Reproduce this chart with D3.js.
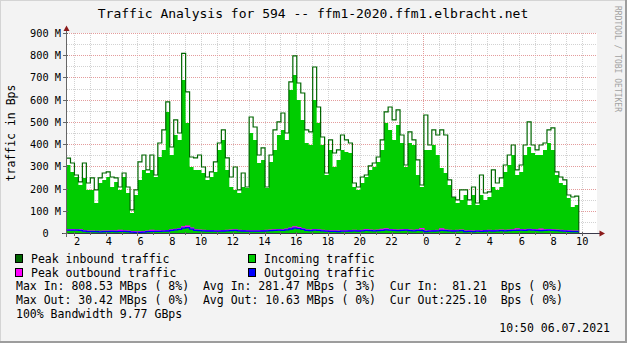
<!DOCTYPE html>
<html>
<head>
<meta charset="utf-8">
<title>Traffic Analysis for 594</title>
<style>
  body { margin: 0; background: #f3f3f3; }
  svg { display: block; }
  svg text { font-family: "DejaVu Sans Mono", monospace; white-space: pre; }
</style>
<script src="https://cdn.jsdelivr.net/npm/d3@7"></script>
</head>
<body>
<svg width="627" height="343"></svg>
<script>

// 15 minute samples from 05.07.2021 01:32, values in MBps
var startTime = new Date(2021, 6, 5, 1, 32);
var stepMinutes = 15;

var peakIn = [
  337, 315, 261, 230, 315, 225, 248, 194, 248, 270,
  275, 252, 248, 207, 270, 207, 104, 194, 320, 351,
  284, 351, 261, 405, 464, 590, 387, 509, 450, 808.5,
  635, 342, 338, 351, 297, 252, 275, 320, 405, 464,
  338, 252, 297, 194, 270, 207, 522, 477, 351, 383,
  207, 351, 464, 500, 540, 450, 680, 797, 675, 630,
  464, 455, 747, 567, 432, 270, 419, 360, 374, 441,
  419, 405, 225, 207, 252, 261, 302, 315, 342, 419,
  545, 567, 509, 554, 441, 306, 455, 419, 329, 216,
  531, 396, 464, 441, 464, 441, 239, 162, 149, 194,
  194, 149, 207, 135, 261, 180, 185, 284, 225, 248,
  306, 351, 396, 284, 306, 396, 500, 396, 374, 396,
  405, 464, 473, 275, 252, 239, 171, 162, 166
];

var avgIn = [
  306, 275, 252, 216, 248, 194, 194, 135, 225, 239,
  252, 207, 230, 194, 252, 180, 90, 171, 239, 284,
  270, 284, 252, 342, 374, 545, 351, 441, 419, 689,
  495, 297, 284, 284, 270, 239, 252, 275, 374, 419,
  284, 207, 194, 180, 207, 203, 450, 419, 315, 329,
  203, 320, 374, 441, 464, 419, 644, 711, 599, 509,
  405, 396, 599, 495, 396, 261, 374, 297, 329, 374,
  365, 360, 207, 194, 225, 252, 284, 297, 320, 374,
  495, 464, 419, 486, 405, 297, 405, 396, 261, 207,
  374, 374, 396, 351, 293, 270, 216, 162, 135, 149,
  171, 126, 171, 126, 171, 149, 162, 207, 194, 207,
  275, 306, 351, 261, 275, 351, 387, 360, 351, 351,
  374, 405, 374, 261, 225, 216, 158, 117, 126
];

var peakOut = [
  14, 15, 14, 14, 10, 8, 8, 7, 7, 8,
  8, 9, 8, 12, 9, 8, 6, 5, 5, 6,
  8, 12, 9, 9, 10, 11, 14, 16, 19, 27,
  30.4, 22, 14, 13, 12, 11, 11, 10, 10, 11,
  12, 13, 14, 12, 11, 10, 10, 10, 10, 11,
  12, 13, 14, 15, 14, 17, 22, 28, 24, 19,
  14, 13, 15, 14, 12, 10, 9, 9, 8, 10,
  10, 11, 12, 11, 12, 15, 13, 12, 13, 16,
  18, 15, 14, 13, 14, 15, 13, 12, 14, 20,
  8, 10, 11, 12, 18, 13, 12, 11, 12, 13,
  8, 9, 8, 10, 9, 11, 12, 11, 12, 13,
  12, 13, 14, 19, 15, 14, 16, 15, 14, 17,
  14, 15, 14, 13, 12, 10, 9, 8, 8
];

var avgOut = [
  13, 13, 13, 12, 8, 6, 6, 6, 5, 6,
  6, 7, 6, 7, 7, 6, 4, 3, 3, 4,
  6, 7, 7, 7, 8, 9, 12, 14, 16, 22,
  24, 17, 12, 11, 10, 9, 9, 8, 8, 9,
  10, 11, 12, 10, 9, 8, 8, 8, 8, 9,
  10, 11, 12, 13, 12, 14, 18, 22, 20, 16,
  12, 11, 13, 12, 10, 8, 7, 7, 6, 8,
  8, 9, 10, 9, 10, 12, 11, 10, 11, 12,
  14, 13, 12, 11, 12, 13, 11, 10, 12, 11,
  6, 8, 9, 10, 12, 11, 10, 9, 10, 11,
  6, 7, 6, 8, 7, 9, 10, 9, 10, 11,
  10, 11, 12, 12, 13, 12, 14, 13, 12, 11,
  12, 13, 12, 11, 10, 8, 7, 6, 6
];

var yTickValues = [0, 100, 200, 300, 400, 500, 600, 700, 800, 900];
var yTickLabels = ["0  ", "100 M", "200 M", "300 M", "400 M", "500 M", "600 M", "700 M", "800 M", "900 M"];

var legendItems = [
  { label: "Peak inbound traffic", color: "#006600" },
  { label: "Incoming traffic", color: "#00cc00" },
  { label: "Peak outbound traffic", color: "#ff00ff" },
  { label: "Outgoing traffic", color: "#0000ff" }
];

var statLines = [
  "Max In: 808.53 MBps ( 8%)  Avg In: 281.47 MBps ( 3%)  Cur In:  81.21  Bps ( 0%)",
  "Max Out: 30.42 MBps ( 0%)  Avg Out: 10.63 MBps ( 0%)  Cur Out:225.10  Bps ( 0%)",
  "100% Bandwidth 9.77 GBps"
];

var titleText = "Traffic Analysis for 594 -- ffm1-2020.ffm1.elbracht.net";
var stampText = "10:50 06.07.2021";

var svg = d3.select("svg"),
    width = +svg.attr("width"),
    height = +svg.attr("height");

var plotLeft = 66.5, plotRight = 597, plotTop = 33, plotBottom = 233;

var x = d3.scaleTime()
    .domain([new Date(2021, 6, 5, 1, 32), new Date(2021, 6, 6, 10, 56)])
    .range([plotLeft, plotRight]);

var y = d3.scaleLinear()
    .domain([0, 900])
    .range([plotBottom, plotTop]);

function timeAt(i) {
  return new Date(startTime.getTime() + i * stepMinutes * 60000);
}

// step series, with one closing point at the end of the last sample
function series(values) {
  var pts = values.map(function(v, i) { return { t: timeAt(i), v: v }; });
  pts.push({ t: timeAt(values.length), v: values[values.length - 1] });
  return pts;
}

// background and frame shading
svg.append("rect").attr("width", width).attr("height", height).attr("fill", "#f3f3f3");
svg.append("path").attr("d", "M0,343V0H627").attr("fill", "none").attr("stroke", "#d4d4d4").attr("stroke-width", 2);
svg.append("path").attr("d", "M0,342H626V0").attr("fill", "none").attr("stroke", "#9d9d9d").attr("stroke-width", 2);

svg.append("rect")
    .attr("x", plotLeft).attr("y", plotTop)
    .attr("width", plotRight - plotLeft).attr("height", plotBottom - plotTop)
    .attr("fill", "#fff");

// grid
var grid = svg.append("g").attr("shape-rendering", "crispEdges").attr("stroke-dasharray", "1,1");

var hours = d3.timeHour.range(new Date(2021, 6, 5, 2), new Date(2021, 6, 6, 11));
grid.selectAll("line.vgrid")
    .data(hours)
  .enter().append("line")
    .attr("x1", function(d) { return Math.round(x(d)) + 0.5; })
    .attr("x2", function(d) { return Math.round(x(d)) + 0.5; })
    .attr("y1", plotTop).attr("y2", plotBottom)
    .attr("stroke", function(d) { return d.getHours() === 0 ? "#e49c9c" : "#d2d2d2"; });

grid.selectAll("line.hgrid")
    .data(d3.range(50, 901, 50))
  .enter().append("line")
    .attr("x1", plotLeft).attr("x2", plotRight)
    .attr("y1", function(d) { return Math.round(y(d)) + 0.5; })
    .attr("y2", function(d) { return Math.round(y(d)) + 0.5; })
    .attr("stroke", function(d) { return d % 100 === 0 ? "#e49c9c" : "#d2d2d2"; });

// incoming area and peak inbound line
svg.append("path")
    .datum(series(avgIn))
    .attr("fill", "#00cc00")
    .attr("d", d3.area().curve(d3.curveStepAfter)
        .x(function(d) { return x(d.t); })
        .y0(y(0))
        .y1(function(d) { return y(d.v); }));

var stepLine = d3.line().curve(d3.curveStepAfter)
    .x(function(d) { return x(d.t); })
    .y(function(d) { return y(d.v); });

var peakPts = series(peakIn);
peakPts.push({ t: timeAt(peakIn.length), v: 0 });
svg.append("path")
    .datum(peakPts)
    .attr("fill", "none")
    .attr("stroke", "#006600")
    .attr("stroke-width", 1.2)
    .attr("d", stepLine);

svg.append("path")
    .datum(series(peakOut))
    .attr("fill", "none")
    .attr("stroke", "#ff00ff")
    .attr("stroke-width", 1.3)
    .attr("d", stepLine);

svg.append("path")
    .datum(series(avgOut))
    .attr("fill", "none")
    .attr("stroke", "#0000ff")
    .attr("stroke-width", 1.3)
    .attr("d", stepLine);

// axes
var axes = svg.append("g").attr("shape-rendering", "crispEdges");
axes.append("line").attr("x1", 62).attr("x2", 600).attr("y1", plotBottom + 0.5).attr("y2", plotBottom + 0.5).attr("stroke", "#3a3a4a");
axes.append("line").attr("x1", plotLeft).attr("x2", plotLeft).attr("y1", 237).attr("y2", 30).attr("stroke", "#666");

axes.selectAll("line.xtick")
    .data(hours)
  .enter().append("line")
    .attr("x1", function(d) { return Math.round(x(d)) + 0.5; })
    .attr("x2", function(d) { return Math.round(x(d)) + 0.5; })
    .attr("y1", plotBottom - 1).attr("y2", function(d) { return d.getHours() % 2 === 0 ? plotBottom + 3 : plotBottom + 2; })
    .attr("stroke", "#666");

axes.selectAll("line.ytick")
    .data(yTickValues)
  .enter().append("line")
    .attr("x1", 63).attr("x2", 68)
    .attr("y1", function(d) { return Math.round(y(d)) + 0.5; })
    .attr("y2", function(d) { return Math.round(y(d)) + 0.5; })
    .attr("stroke", "#666");

svg.append("path").attr("d", "M66.5,25.5L63.5,31L69.5,31Z").attr("fill", "#8b1a1a");
svg.append("path").attr("d", "M605,233.5L599.5,230.5L599.5,236.5Z").attr("fill", "#8b1a1a");

// x labels, padded like " 2" so the digit sits right of the line
svg.selectAll("text.xlab")
    .data(hours.filter(function(d) { return d.getHours() % 2 === 0; }))
  .enter().append("text")
    .attr("x", function(d) { return x(d); })
    .attr("y", 245)
    .attr("text-anchor", "middle")
    .attr("font-size", "10.3px")
    .text(function(d) { var h = d.getHours(); return h < 10 ? " " + h : "" + h; });

svg.selectAll("text.ylab")
    .data(yTickValues)
  .enter().append("text")
    .attr("x", 61)
    .attr("y", function(d) { return y(d) + 4; })
    .attr("text-anchor", "end")
    .attr("font-size", "10.3px")
    .text(function(d, i) { return yTickLabels[i]; });

svg.append("text")
    .attr("transform", "translate(15,133) rotate(-90)")
    .attr("text-anchor", "middle")
    .attr("font-size", "11.5px")
    .text("traffic in Bps");

svg.append("text")
    .attr("x", 313).attr("y", 18)
    .attr("text-anchor", "middle")
    .attr("font-size", "13px")
    .text(titleText);

svg.append("text")
    .attr("transform", "translate(615,6) rotate(90)")
    .attr("font-size", "8px")
    .attr("fill", "#a2a2a2")
    .text("RRDTOOL / TOBI OETIKER");

// legend
var legend = svg.selectAll("g.legend")
    .data(legendItems)
  .enter().append("g")
    .attr("transform", function(d, i) {
      return "translate(" + (i % 2 === 0 ? 15.5 : 248.5) + "," + (254.5 + Math.floor(i / 2) * 14) + ")";
    });

legend.append("rect")
    .attr("width", 7).attr("height", 8)
    .attr("fill", function(d) { return d.color; })
    .attr("stroke", "#000")
    .attr("shape-rendering", "crispEdges");

legend.append("text")
    .attr("x", 15.5).attr("y", 8)
    .attr("font-size", "11.5px")
    .text(function(d) { return d.label; });

svg.selectAll("text.stat")
    .data(statLines)
  .enter().append("text")
    .attr("x", 16)
    .attr("y", function(d, i) { return 290 + i * 14; })
    .attr("font-size", "11.5px")
    .text(function(d) { return d; });

svg.append("text")
    .attr("x", 610).attr("y", 332)
    .attr("text-anchor", "end")
    .attr("font-size", "11.5px")
    .text(stampText);

</script>
</body>
</html>
